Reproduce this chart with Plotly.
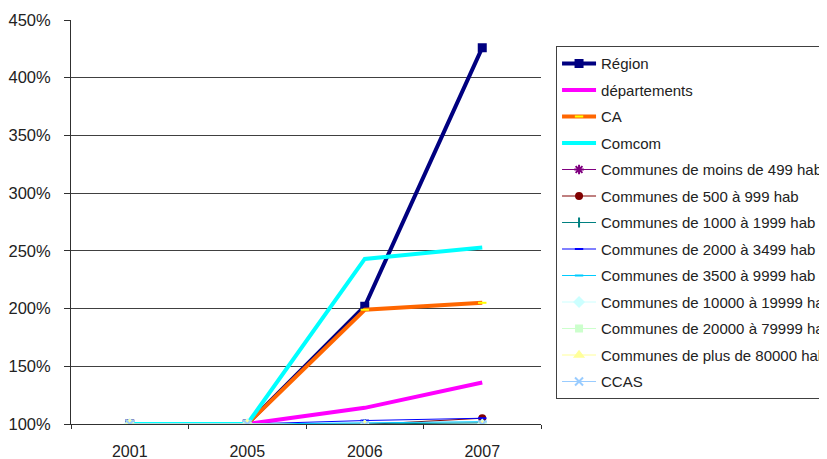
import plotly.graph_objects as go

years = ["2001", "2005", "2006", "2007"]

series_names = [
    "Région", "départements", "CA", "Comcom",
    "Communes de moins de 499 hab", "Communes de 500 à 999 hab",
    "Communes de 1000 à 1999 hab", "Communes de 2000 à 3499 hab",
    "Communes de 3500 à 9999 hab", "Communes de 10000 à 19999 hab",
    "Communes de 20000 à 79999 hab", "Communes de plus de 80000 hab", "CCAS",
]

region = [100, 100, 202, 426]
departements = [100, 100, 114, 136]
ca = [100, 100, 199, 205]
comcom = [100, 100, 243, 253]
moins_499 = [100, 100, 99.5, 99]
c500_999 = [100, 100, 99.5, 105]
c1000_1999 = [100, 100, 100, 101]
c2000_3499 = [100, 100, 103, 105]
c3500_9999 = [100, 100, 101, 102]
c10000_19999 = [100, 100, 99, 99.5]
c20000_79999 = [100, 100, 99, 99]
c80000 = [100, 100, 99, 99]
ccas = [100, 100, 99, 99.5]

values = [region, departements, ca, comcom, moins_499, c500_999, c1000_1999,
          c2000_3499, c3500_9999, c10000_19999, c20000_79999, c80000, ccas]

styles = [
    dict(color="#000080", width=4, symbol="square", msize=7, mcolor="#000080", mode="lines+markers"),
    dict(color="#FF00FF", width=4, symbol="circle", msize=1, mcolor="#FF00FF", mode="lines"),
    dict(color="#FF6600", width=4, symbol="line-ew-open", msize=6, mcolor="#FFFF00", mode="lines+markers"),
    dict(color="#00FFFF", width=4, symbol="circle", msize=1, mcolor="#00FFFF", mode="lines"),
    dict(color="#800080", width=1, symbol="asterisk-open", msize=8, mcolor="#800080", mode="lines+markers"),
    dict(color="#800000", width=1, symbol="circle", msize=6, mcolor="#800000", mode="lines+markers"),
    dict(color="#008080", width=1, symbol="line-ns-open", msize=7, mcolor="#008080", mode="lines+markers"),
    dict(color="#0000FF", width=1, symbol="line-ew-open", msize=6, mcolor="#0000FF", mode="lines+markers"),
    dict(color="#00CCFF", width=1, symbol="line-ew-open", msize=6, mcolor="#00CCFF", mode="lines+markers"),
    dict(color="#CCFFFF", width=1, symbol="diamond", msize=7, mcolor="#CCFFFF", mode="lines+markers"),
    dict(color="#CCFFCC", width=1, symbol="square", msize=6, mcolor="#CCFFCC", mode="lines+markers"),
    dict(color="#FFFF99", width=1, symbol="triangle-up", msize=7, mcolor="#FFFF99", mode="lines+markers"),
    dict(color="#99CCFF", width=1, symbol="x-thin-open", msize=8, mcolor="#99CCFF", mode="lines+markers"),
]

fig = go.Figure()
for i, (name, vals, st) in enumerate(zip(series_names, values, styles)):
    fig.add_trace(go.Scatter(
        x=years, y=vals, name=name, mode=st["mode"],
        line=dict(color=st["color"], width=st["width"]),
        marker=dict(symbol=st["symbol"], size=st["msize"], color=st["mcolor"],
                    line=dict(color=st["mcolor"], width=2)),
        legendgroup=f"g{i}",
    ))

fig.update_layout(
    width=827, height=459,
    margin=dict(l=63, r=294, t=12, b=43, autoexpand=False),
    paper_bgcolor="white", plot_bgcolor="white",
    font=dict(family="Liberation Sans, Arial, sans-serif", size=16, color="#222222"),
    showlegend=True,
    legend=dict(
        x=1.032, y=0.935, xanchor="left", yanchor="top",
        bordercolor="#404040", borderwidth=1,
        font=dict(size=15, color="#222222"),
        tracegroupgap=4, itemwidth=34,
        traceorder="grouped",
    ),
    xaxis=dict(
        type="category", showgrid=False, showline=True, linecolor="#303030", linewidth=1,
        ticks="outside", tickson="boundaries", ticklen=4, tickcolor="#303030",
        range=[-0.5, 3.5], tickfont=dict(size=16), ticklabelstandoff=13,
    ),
    yaxis=dict(
        range=[100, 450], tickvals=[100, 150, 200, 250, 300, 350, 400, 450],
        ticktext=["100%", "150%", "200%", "250%", "300%", "350%", "400%", "450%"],
        showgrid=True, gridcolor="#404040", gridwidth=1,
        showline=True, linecolor="#303030", linewidth=1,
        ticks="outside", ticklen=6, tickcolor="#303030",
        tickfont=dict(size=16.5), zeroline=False, ticklabelstandoff=10,
    ),
)

fig.write_html("out.html")
